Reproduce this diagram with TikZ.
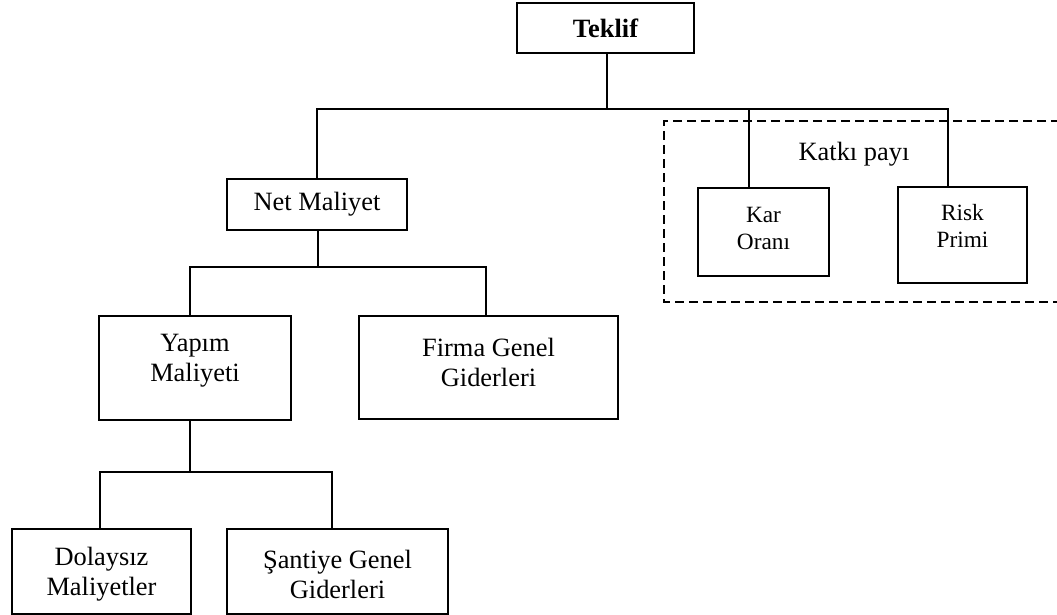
\documentclass[tikz,border=0pt]{standalone}
\usepackage{fontspec}
\setmainfont{Liberation Serif}
\begin{document}
\begin{tikzpicture}[x=1pt,y=-1pt,
  box/.style={draw, line width=1.5pt, inner sep=0pt},
  txt/.style={align=center, font=\fontsize{26.4}{30}\selectfont},
  small/.style={align=center, font=\fontsize{23.3}{27}\selectfont},
  conn/.style={line width=1.5pt},
  groupline/.style={line width=1.5pt, dash pattern=on 9pt off 5pt}]
\useasboundingbox (0,0) rectangle (1057,615);

% cost breakdown boxes
\node[box, txt, font=\fontsize{26.4}{30}\selectfont\bfseries,
      minimum width=177pt, minimum height=50pt] (teklif) at (605.5,28) {Teklif};
\node[box, txt, minimum width=180pt, minimum height=51pt] (net) at (317,204.5) {Net Maliyet};
\node[box, minimum width=131pt, minimum height=88pt,
      label={[small,yshift=4pt]center:{Kar\\Oranı}}] (kar) at (763.5,232) {};
\node[box, minimum width=129pt, minimum height=96pt,
      label={[small,yshift=9.5pt]center:{Risk\\Primi}}] (risk) at (962.5,235) {};
\node[box, minimum width=192pt, minimum height=104pt,
      label={[txt,yshift=7.5pt]center:{Yapım\\Maliyeti}}] (yapim) at (195,368) {};
\node[box, minimum width=259pt, minimum height=103pt,
      label={[txt,yshift=5.5pt]center:{Firma Genel\\Giderleri}}] (firma) at (488.5,367.5) {};
\node[box, minimum width=179pt, minimum height=85pt,
      label={[txt,yshift=-2.5pt]center:{Dolaysız\\Maliyetler}}] (dolay) at (101.5,571.5) {};
\node[box, minimum width=221pt, minimum height=85pt,
      label={[txt,yshift=-2.5pt]center:{Şantiye Genel\\Giderleri}}] (santiye) at (337.5,571.5) {};

% contribution margin group
\draw[groupline] (1060,121) -- (664,121) -- (664,302) -- (1060,302);
\node[txt] (katki) at (854,154) {Katkı payı};

% tree connectors
\coordinate (bus1) at (607,109);
\coordinate (bus2) at (318,267);
\coordinate (bus3) at (190,472);
\draw[conn] (teklif.south -| bus1) -- (bus1);
\draw[conn] (net.north) |- (bus1);
\draw[conn] (bus1) -| ([xshift=-14.5pt]kar.north);
\draw[conn] (bus1) -| ([xshift=-14.5pt]risk.north);
\draw[conn] (net.south -| bus2) -- (bus2);
\draw[conn] ([xshift=-5pt]yapim.north) |- (bus2) -| ([xshift=-2.5pt]firma.north);
\draw[conn] (yapim.south -| bus3) -- (bus3);
\draw[conn] ([xshift=-1.5pt]dolay.north) |- (bus3) -| ([xshift=-5.5pt]santiye.north);
\end{tikzpicture}
\end{document}
